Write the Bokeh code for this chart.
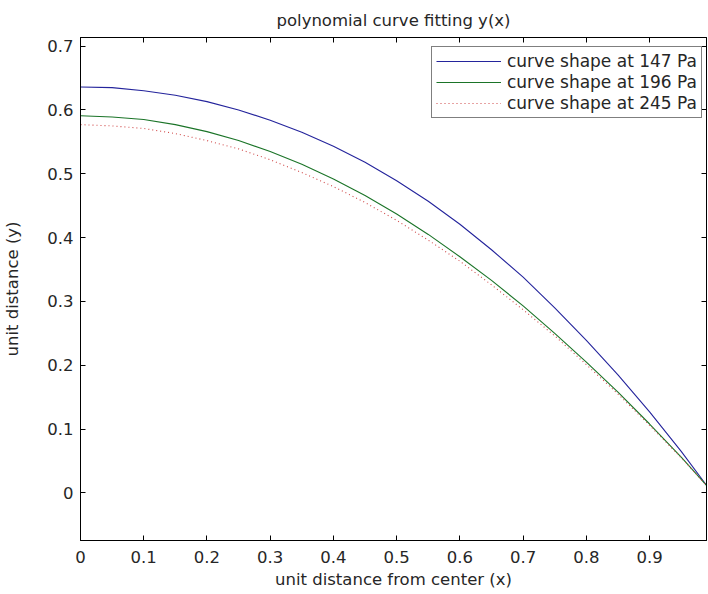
from bokeh.plotting import figure
from bokeh.models import Range1d, LinearAxis, FixedTicker, Legend, LegendItem, Title
from bokeh.embed import file_html
from bokeh.resources import INLINE

# ---- data ----
x_vals = [0.0, 0.05, 0.1, 0.15, 0.2, 0.25, 0.3, 0.35, 0.4, 0.45, 0.5,
          0.55, 0.6, 0.65, 0.7, 0.75, 0.8, 0.85, 0.9, 0.95, 0.99]
y_147 = [0.636, 0.635, 0.630, 0.623, 0.613, 0.600, 0.584, 0.565, 0.543, 0.518, 0.489,
         0.457, 0.421, 0.381, 0.338, 0.290, 0.239, 0.185, 0.127, 0.065, 0.012]
y_196 = [0.591, 0.589, 0.585, 0.577, 0.566, 0.552, 0.535, 0.515, 0.492, 0.466, 0.437,
         0.405, 0.370, 0.333, 0.293, 0.250, 0.205, 0.158, 0.108, 0.056, 0.012]
y_245 = [0.577, 0.575, 0.571, 0.563, 0.552, 0.539, 0.522, 0.502, 0.480, 0.455, 0.427,
         0.396, 0.363, 0.326, 0.287, 0.246, 0.201, 0.155, 0.106, 0.055, 0.012]
series_labels = ["curve shape at 147 Pa", "curve shape at 196 Pa", "curve shape at 245 Pa"]
title_text = "polynomial curve fitting y(x)"
x_ticks = [0, 0.1, 0.2, 0.3, 0.4, 0.5, 0.6, 0.7, 0.8, 0.9]
x_tick_labels = ["0", "0.1", "0.2", "0.3", "0.4", "0.5", "0.6", "0.7", "0.8", "0.9"]
y_ticks = [0, 0.1, 0.2, 0.3, 0.4, 0.5, 0.6, 0.7]
y_tick_labels = ["0", "0.1", "0.2", "0.3", "0.4", "0.5", "0.6", "0.7"]

FONT = "DejaVu Sans"
FS = "16.5px"
TXT = "#262626"

p = figure(width=708, height=594, output_backend="svg", toolbar_location=None,
           x_range=Range1d(0, 0.99), y_range=Range1d(-0.0745, 0.7135),
           min_border_left=77, min_border_right=2, min_border_top=37, min_border_bottom=54,
           background_fill_color="white", border_fill_color="white")
p.title = None
p.grid.visible = False
p.outline_line_color = "black"
p.outline_line_width = 1

def style_axis(ax, ticks, labels, show_labels=True):
    ax.ticker = FixedTicker(ticks=ticks)
    ax.major_label_overrides = {t: l for t, l in zip(ticks, labels)}
    ax.major_tick_in = 5
    ax.major_tick_out = 0
    ax.minor_tick_in = 0
    ax.minor_tick_out = 0
    ax.axis_line_color = "black"
    ax.major_tick_line_color = "black"
    ax.major_label_text_font = FONT
    ax.major_label_text_font_size = FS if show_labels else "0px"
    ax.major_label_text_color = TXT
    ax.major_label_standoff = 7 if show_labels else 0

style_axis(p.xaxis[0], x_ticks, x_tick_labels)
style_axis(p.yaxis[0], y_ticks, y_tick_labels)
p.xaxis[0].major_label_standoff = 10
p.xaxis[0].axis_label = "unit distance from center (x)"
p.yaxis[0].axis_label = "unit distance (y)"
for ax in (p.xaxis[0], p.yaxis[0]):
    ax.axis_label_text_font = FONT
    ax.axis_label_text_font_size = FS
    ax.axis_label_text_font_style = "normal"
    ax.axis_label_text_color = TXT
p.xaxis[0].axis_label_standoff = 4
p.yaxis[0].axis_label_standoff = 22

top_ax = LinearAxis()
style_axis(top_ax, x_ticks, x_tick_labels, show_labels=False)
p.add_layout(top_ax, "above")
right_ax = LinearAxis()
style_axis(right_ax, y_ticks, y_tick_labels, show_labels=False)
p.add_layout(right_ax, "right")

t = Title(text=title_text, align="center", text_font=FONT,
          text_font_size=FS, text_font_style="normal", text_color=TXT, standoff=16)
p.add_layout(t, "above")

r1 = p.line(x_vals, y_147, line_color="#24249c", line_width=1.1)
r2 = p.line(x_vals, y_196, line_color="#1b7428", line_width=1.1)
r3 = p.line(x_vals, y_245, line_color="#d04848", line_width=1.1, line_dash="1 3")

legend = Legend(items=[LegendItem(label=series_labels[0], renderers=[r1]),
                       LegendItem(label=series_labels[1], renderers=[r2]),
                       LegendItem(label=series_labels[2], renderers=[r3])],
                location=(351, 422), glyph_width=65, glyph_height=20, label_height=20,
                label_standoff=6, padding=4, spacing=1, margin=0, border_line_color="black",
                label_text_font=FONT, label_text_font_size="17px", label_text_color=TXT,
                background_fill_alpha=1.0)
p.add_layout(legend, "center")

open("out.html", "w").write(file_html(p, INLINE))
